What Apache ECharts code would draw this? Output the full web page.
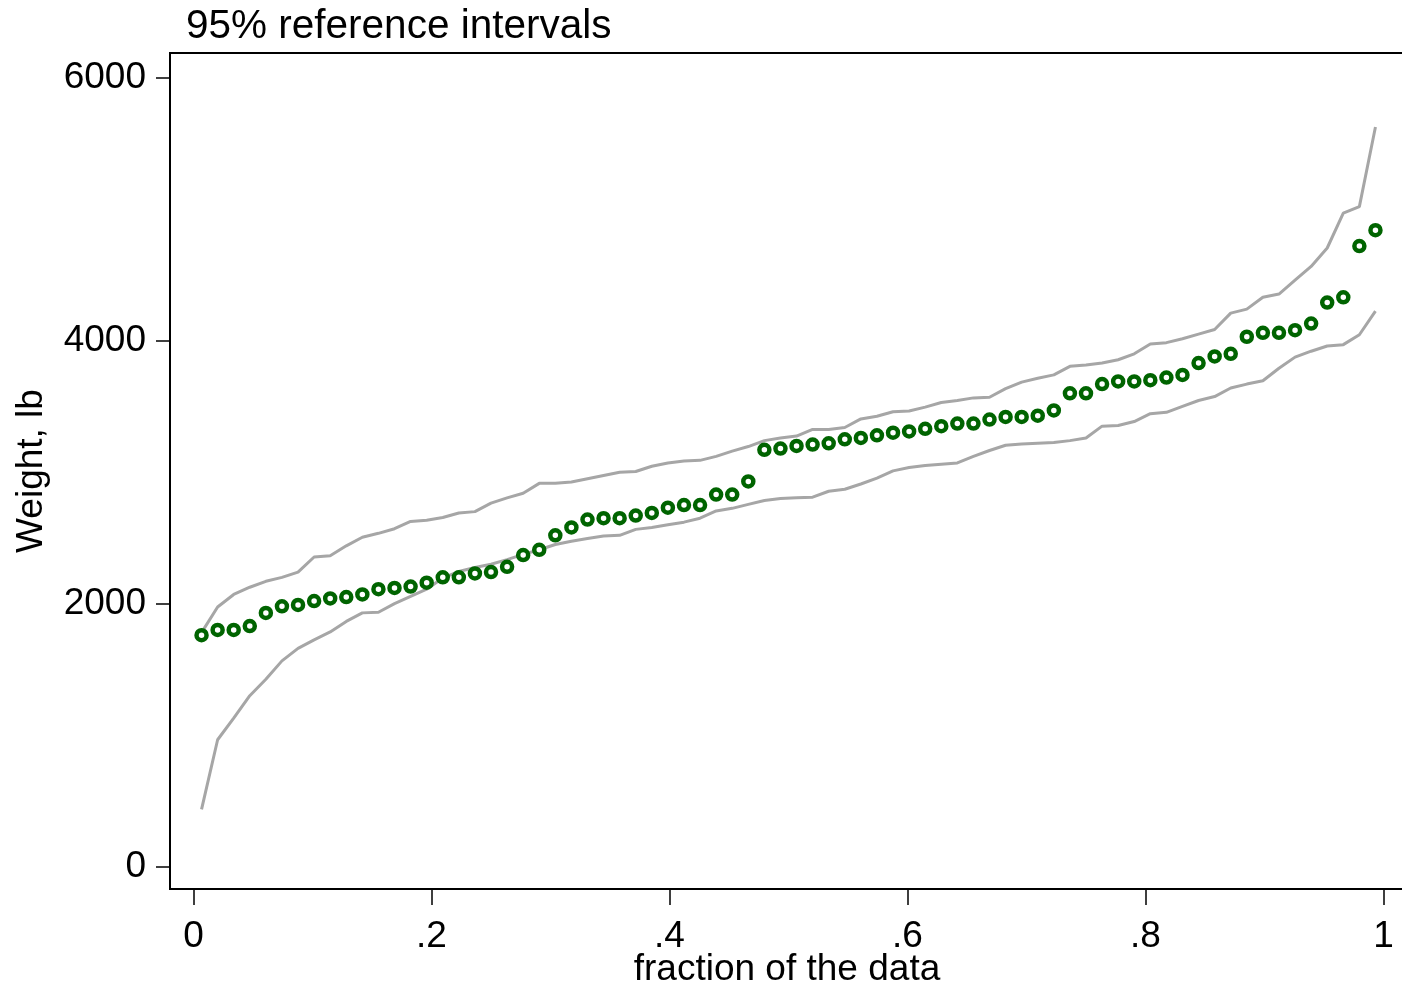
<!DOCTYPE html>
<html>
<head>
<meta charset="utf-8">
<title>95% reference intervals</title>
<script src="https://cdn.jsdelivr.net/npm/echarts@6/dist/echarts.min.js"></script>
<style>
  html, body { margin: 0; padding: 0; background: #ffffff; }
  #chart { width: 1402px; height: 993px; }
</style>
</head>
<body>
<div id="chart"></div>
<script>
// Sorted vehicle weights (lb), one per car
const weights = [
  1760, 1800, 1800, 1830, 1930, 1980, 1990, 2020, 2040, 2050,
  2070, 2110, 2120, 2130, 2160, 2200, 2200, 2230, 2240, 2280,
  2370, 2410, 2520, 2580, 2640, 2650, 2650, 2670, 2690, 2730,
  2750, 2750, 2830, 2830, 2930, 3170, 3180, 3200, 3210, 3220,
  3250, 3260, 3280, 3300, 3310, 3330, 3350, 3370, 3370, 3400,
  3420, 3420, 3430, 3470, 3600, 3600, 3670, 3690, 3690, 3700,
  3720, 3740, 3830, 3880, 3900, 4030, 4060, 4060, 4080, 4130,
  4290, 4330, 4720, 4840
];

// Upper limit of the 95% reference interval at each order statistic
const upperLimit = [
  1780, 1975, 2070, 2125, 2170, 2200, 2240, 2355, 2365, 2440,
  2505, 2535, 2570, 2625, 2635, 2655, 2690, 2700, 2765, 2805,
  2840, 2915, 2915, 2925, 2950, 2975, 3000, 3005, 3045, 3070,
  3085, 3090, 3120, 3160, 3195, 3240, 3260, 3275, 3325, 3325,
  3340, 3405, 3425, 3460, 3465, 3495, 3530, 3545, 3565, 3570,
  3635, 3685, 3715, 3740, 3805, 3815, 3830, 3855, 3900, 3975,
  3985, 4015, 4050, 4085, 4210, 4240, 4330, 4355, 4460, 4565,
  4705, 4970, 5020, 5625
];

// Lower limit of the 95% reference interval at each order statistic
const lowerLimit = [
   435,  965, 1130, 1300, 1425, 1565, 1660, 1725, 1785, 1865,
  1930, 1935, 2000, 2055, 2110, 2195, 2245, 2275, 2300, 2335,
  2375, 2410, 2450, 2475, 2495, 2515, 2520, 2565, 2580, 2600,
  2620, 2650, 2705, 2725, 2755, 2785, 2800, 2805, 2810, 2855,
  2870, 2910, 2955, 3010, 3035, 3050, 3060, 3070, 3120, 3165,
  3205, 3215, 3220, 3225, 3240, 3260, 3350, 3355, 3385, 3445,
  3455, 3500, 3545, 3575, 3640, 3670, 3695, 3790, 3875, 3920,
  3960, 3970, 4045, 4225
];

const xTickValues = [0, 0.2, 0.4, 0.6, 0.8, 1];
const xTickLabels = ['0', '.2', '.4', '.6', '.8', '1'];
const yTickValues = [0, 2000, 4000, 6000];
const yTickLabels = ['0', '2000', '4000', '6000'];

// Plotting position of the i-th smallest value: (i - 0.5) / n
const n = weights.length;
const fraction = weights.map((_, i) => (i + 0.5) / n);

const pointsData = weights.map((w, i) => [fraction[i], w]);
const upperData = upperLimit.map((v, i) => [fraction[i], v]);
const lowerData = lowerLimit.map((v, i) => [fraction[i], v]);

const FONT = '"Liberation Sans", Arial, Helvetica, sans-serif';
const GREEN = '#006400';
const GREY = '#a6a6a6';

const chart = echarts.init(document.getElementById('chart'), null, { renderer: 'canvas' });

chart.setOption({
  animation: false,
  backgroundColor: '#ffffff',
  title: {
    text: '95% reference intervals',
    left: 186,
    top: 6,
    padding: 0,
    textStyle: { fontFamily: FONT, fontSize: 40.5, fontWeight: 'normal', color: '#000000' }
  },
  grid: {
    left: 170,
    top: 53,
    right: -2,
    bottom: 104,
    outerBoundsMode: 'none',
    containLabel: false,
    show: true,
    borderColor: '#000000',
    borderWidth: 2,
    backgroundColor: '#ffffff'
  },
  xAxis: {
    type: 'value',
    min: -0.01975,
    max: 1.01723,
    name: 'fraction of the data',
    nameLocation: 'middle',
    nameGap: 62,
    nameMoveOverlap: false,
    nameTextStyle: { fontFamily: FONT, fontSize: 37, color: '#000000' },
    axisLine: { show: true, onZero: false, lineStyle: { color: '#000000', width: 2 } },
    axisTick: {
      show: true,
      customValues: xTickValues,
      length: 16,
      lineStyle: { color: '#000000', width: 1.5 }
    },
    axisLabel: {
      customValues: xTickValues,
      margin: 29,
      fontFamily: FONT,
      fontSize: 37,
      color: '#000000',
      formatter: (v) => xTickLabels[xTickValues.findIndex(t => Math.abs(t - v) < 1e-9)]
    },
    splitLine: { show: false }
  },
  yAxis: {
    type: 'value',
    min: -170,
    max: 6188,
    name: 'Weight, lb',
    nameLocation: 'middle',
    nameGap: 120,
    nameRotate: 90,
    nameMoveOverlap: false,
    nameTextStyle: { fontFamily: FONT, fontSize: 37, color: '#000000' },
    axisLine: { show: true, onZero: false, lineStyle: { color: '#000000', width: 2 } },
    axisTick: {
      show: true,
      customValues: yTickValues,
      length: 14,
      lineStyle: { color: '#000000', width: 1.5 }
    },
    axisLabel: {
      customValues: yTickValues,
      margin: 24,
      fontFamily: FONT,
      fontSize: 37,
      color: '#000000',
      formatter: (v) => yTickLabels[yTickValues.findIndex(t => Math.abs(t - v) < 1e-9)]
    },
    splitLine: { show: false }
  },
  series: [
    {
      name: 'upper',
      type: 'line',
      data: upperData,
      showSymbol: false,
      symbol: 'none',
      lineStyle: { color: GREY, width: 3 },
      z: 2
    },
    {
      name: 'lower',
      type: 'line',
      data: lowerData,
      showSymbol: false,
      symbol: 'none',
      lineStyle: { color: GREY, width: 3 },
      z: 2
    },
    {
      name: 'weight',
      type: 'scatter',
      data: pointsData,
      symbol: 'circle',
      symbolSize: 10,
      itemStyle: { color: '#ffffff', borderColor: GREEN, borderWidth: 4.5, opacity: 1 },
      z: 3
    }
  ]
});
</script>
</body>
</html>
